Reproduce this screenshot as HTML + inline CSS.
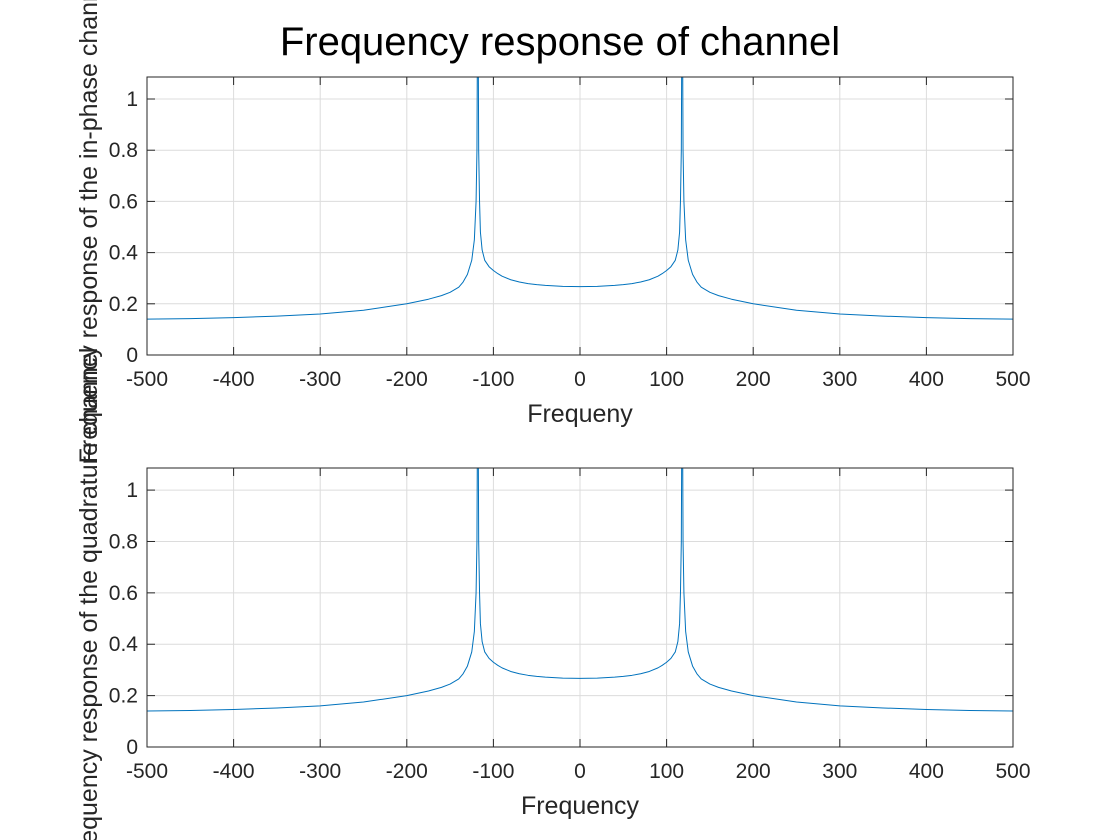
<!DOCTYPE html>
<html><head><meta charset="utf-8"><style>
html,body{margin:0;padding:0;background:#fff;}
svg{display:block;font-family:"Liberation Sans",Arial,sans-serif;}
</style></head><body>
<svg id="fig" width="1120" height="840" viewBox="0 0 1120 840">
<rect width="1120" height="840" fill="#fff"/>
<text x="560" y="55" font-size="40" text-anchor="middle" fill="#000">Frequency response of channel</text>
<g id="ax1"></g>
<g id="ax2"></g>
</svg>
<script>
const freqs = [-500,-450,-400,-350,-300,-250,-200,-175,-160,-150,-140,-135,-130,-125,-122,-120,-119,-118.5,-118,-117.5,-117,-116,-115,-113,-110,-105,-100,-95,-90,-80,-70,-60,-50,-40,-30,-20,0,20,30,40,50,60,70,80,90,95,100,105,110,113,115,116,117,117.5,118,118.5,119,120,122,125,130,135,140,150,160,175,200,250,300,350,400,450,500];
const inphase = [0.14,0.142,0.146,0.152,0.16,0.175,0.2,0.218,0.232,0.245,0.265,0.285,0.315,0.37,0.45,0.6,0.8,1.2,1.5,1.2,0.8,0.6,0.48,0.41,0.37,0.345,0.33,0.318,0.308,0.294,0.285,0.279,0.275,0.272,0.27,0.268,0.267,0.268,0.27,0.272,0.275,0.279,0.285,0.294,0.308,0.318,0.33,0.345,0.37,0.41,0.48,0.6,0.8,1.2,1.5,1.2,0.8,0.6,0.45,0.37,0.315,0.285,0.265,0.245,0.232,0.218,0.2,0.175,0.16,0.152,0.146,0.142,0.14];
const quadrature = [0.14,0.142,0.146,0.152,0.16,0.175,0.2,0.218,0.232,0.245,0.265,0.285,0.315,0.37,0.45,0.6,0.8,1.2,1.5,1.2,0.8,0.6,0.48,0.41,0.37,0.345,0.33,0.318,0.308,0.294,0.285,0.279,0.275,0.272,0.27,0.268,0.267,0.268,0.27,0.272,0.275,0.279,0.285,0.294,0.308,0.318,0.33,0.345,0.37,0.41,0.48,0.6,0.8,1.2,1.5,1.2,0.8,0.6,0.45,0.37,0.315,0.285,0.265,0.245,0.232,0.218,0.2,0.175,0.16,0.152,0.146,0.142,0.14];
const xTicks = [-500,-400,-300,-200,-100,0,100,200,300,400,500];
const yTicks = [0,0.2,0.4,0.6,0.8,1];
const yTickLabels = ["0","0.2","0.4","0.6","0.8","1"];

const NS="http://www.w3.org/2000/svg";
function mk(tag,attrs,parent){const e=document.createElementNS(NS,tag);for(const k in attrs)e.setAttribute(k,attrs[k]);parent.appendChild(e);return e;}

function drawAxes(g,top,bottom,vals,xlabel,ylabel,id){
  const left=147,right=1013,yMax=1.086;
  const sx=v=>left+(v+500)/1000*(right-left);
  const sy=v=>bottom-v/yMax*(bottom-top);
  const clip=mk('clipPath',{id:'clip'+id},g);
  mk('rect',{x:left,y:top,width:right-left,height:bottom-top},clip);
  mk('rect',{x:left,y:top,width:right-left,height:bottom-top,fill:'#fff'},g);
  xTicks.forEach((t,i)=>{
    const x=sx(t);
    const gl=mk('line',{x1:x,x2:x,y1:top,y2:bottom,stroke:'#dcdcdc','stroke-width':1},g);
    
    
    mk('line',{x1:x,x2:x,y1:bottom,y2:bottom-8,stroke:'#262626'},g);
    mk('line',{x1:x,x2:x,y1:top,y2:top+8,stroke:'#262626'},g);
    const tl=mk('text',{x:x,y:bottom+31,'font-size':21,'text-anchor':'middle',fill:'#262626'},g);
    tl.textContent=String(t);
    
    
  });
  yTicks.forEach((t,i)=>{
    const y=sy(t);
    const gl=mk('line',{x1:left,x2:right,y1:y,y2:y,stroke:'#dcdcdc','stroke-width':1},g);
    
    
    mk('line',{x1:left,x2:left+8,y1:y,y2:y,stroke:'#262626'},g);
    mk('line',{x1:right,x2:right-8,y1:y,y2:y,stroke:'#262626'},g);
    const tl=mk('text',{x:left-9,y:y+7,'font-size':21,'text-anchor':'end',fill:'#262626'},g);
    tl.textContent=yTickLabels[i];
    
    
  });
  const d=freqs.map((f,i)=>(i?'L':'M')+sx(f).toFixed(2)+','+sy(vals[i]).toFixed(2)).join('');
  const p=mk('path',{d:d,fill:'none',stroke:'#0072BD','stroke-width':1,'stroke-linejoin':'round','clip-path':'url(#clip'+id+')'},g);
  
  
  const box=mk('rect',{x:left,y:top,width:right-left,height:bottom-top,fill:'none',stroke:'#262626','stroke-width':1},g);
  
  
  const xl=mk('text',{x:(left+right)/2,y:bottom+67,'font-size':25,'text-anchor':'middle',fill:'#262626'},g);
  xl.textContent=xlabel;
  
  
  const cy=(top+bottom)/2;
  const yl=mk('text',{x:97,y:cy,'font-size':25,'text-anchor':'middle',fill:'#262626',transform:'rotate(-90 97 '+cy+')'},g);
  yl.textContent=ylabel;
  
  
}
drawAxes(document.getElementById('ax1'),77,355,inphase,'Frequeny','Frequency response of the in-phase channel',1);
drawAxes(document.getElementById('ax2'),468,747,quadrature,'Frequency','Frequency response of the quadrature channel',2);
</script>
</body></html>
